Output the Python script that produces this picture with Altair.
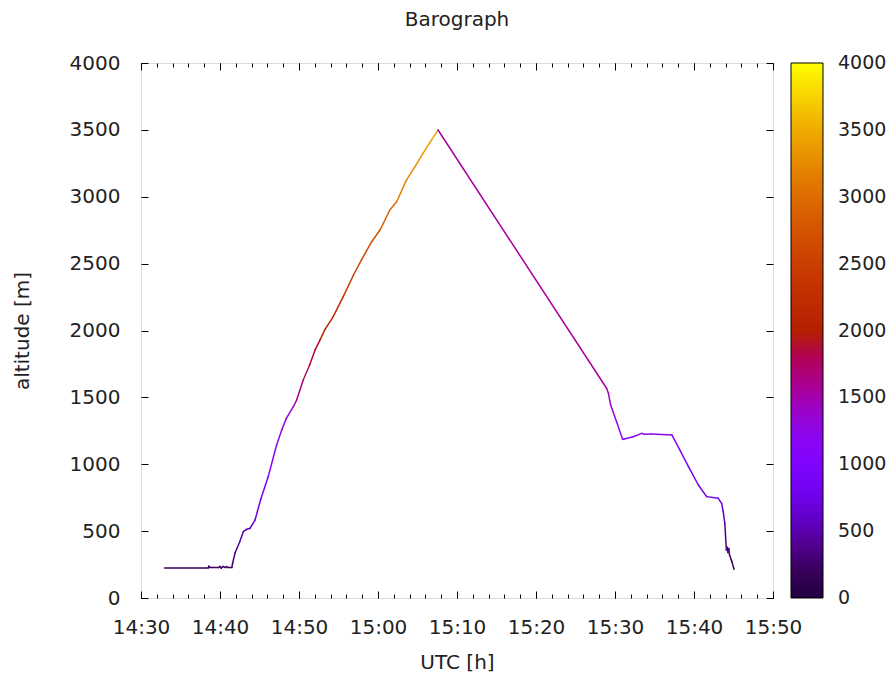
import math
import altair as alt
import pandas as pd

# ---- data (UTC clock time, altitude in m) ----
times = [
    "14:33:00", "14:38:30", "14:38:35", "14:38:45", "14:39:50", "14:40:00",
    "14:40:10", "14:40:20", "14:40:40", "14:40:50", "14:41:00", "14:41:30",
    "14:41:36", "14:41:54", "14:42:30", "14:42:57", "14:43:20", "14:43:48",
    "14:44:26", "14:45:10", "14:46:06", "14:47:10", "14:47:50", "14:48:24",
    "14:49:17", "14:49:42", "14:50:32", "14:51:20", "14:52:02", "14:52:40",
    "14:53:18", "14:54:20", "14:55:36", "14:56:54", "14:57:54", "14:59:12",
    "15:00:15", "15:01:30", "15:02:22", "15:03:36", "15:04:41", "15:05:42",
    "15:06:40", "15:07:36",
    "15:28:56", "15:29:10", "15:29:27", "15:30:12", "15:30:58", "15:31:10",
    "15:32:18", "15:33:24", "15:33:40", "15:34:36", "15:37:12", "15:38:12",
    "15:39:18", "15:40:33", "15:41:36", "15:43:04", "15:43:30", "15:43:42",
    "15:43:54", "15:44:06", "15:44:12", "15:44:18", "15:44:24", "15:44:30",
    "15:44:48", "15:45:04",
]
altitudes = [
    225, 225, 238, 228, 228, 236,
    222, 236, 228, 235, 228, 228,
    260, 336, 420, 496, 512, 521,
    583, 740, 907, 1144, 1260, 1343,
    1430, 1480, 1630, 1740, 1854, 1930,
    2009, 2104, 2253, 2415, 2527, 2664,
    2751, 2901, 2963, 3125, 3225, 3325,
    3415, 3499,
    1568, 1530, 1443, 1318, 1186, 1189,
    1206, 1231, 1225, 1226, 1219, 1107,
    982, 845, 758, 745, 708, 646,
    558, 359, 380, 340, 370, 321,
    272, 215,
]

x_ticks_major = [870, 880, 890, 900, 910, 920, 930, 940, 950]  # 14:30 .. 15:50
x_ticks_minor = list(range(870, 951, 2))
y_ticks = [0, 500, 1000, 1500, 2000, 2500, 3000, 3500, 4000]
cb_ticks = [0, 500, 1000, 1500, 2000, 2500, 3000, 3500, 4000]


def to_min(s):
    h, m, sec = (int(v) for v in s.split(":"))
    return h * 60 + m + sec / 60.0


mins = [to_min(t) for t in times]
seg = pd.DataFrame({
    "t0": mins[:-1], "t1": mins[1:],
    "a0": altitudes[:-1], "a1": altitudes[1:],
})

# gnuplot default palette (rgbformulae 7,5,15)
stops = [i / 16 for i in range(17)]
def pal(g):
    r = math.sqrt(g)
    gg = g ** 3
    b = max(0.0, math.sin(2 * math.pi * g))
    if g >= 1:
        b = 0.0
    return "#%02x%02x%02x" % (round(r * 255), round(gg * 255), round(b * 255))
pal_range = [pal(g) for g in stops]
pal_domain = [g * 4000 for g in stops]
# nudge the ends a hair outwards so the 0 / 4000 labels stay centred on their ticks
pal_domain[0] = -1
pal_domain[-1] = 4001

W, H = 632, 535
FONT = "DejaVu Sans"
TXT = "#222222"

xscale = alt.Scale(domain=[870, 950], nice=False, zero=False)
yscale = alt.Scale(domain=[0, 4000], nice=False)
cscale = alt.Scale(domain=pal_domain, range=pal_range)

label_expr = ("floor(datum.value/60) + ':' + (datum.value % 60 < 10 ? '0' : '') + (datum.value % 60)")

base = alt.Chart(seg)

main = base.mark_rule(strokeWidth=1.5, strokeCap="round").encode(
    x=alt.X("t0:Q", scale=xscale, axis=alt.Axis(
        orient="bottom", values=x_ticks_major, labelExpr=label_expr,
        ticks=False, tickSize=0, domain=False, grid=False,
        labelFont=FONT, labelFontSize=20, labelColor=TXT, labelPadding=29,
        labelBaseline="middle", labelFlush=False, labelOverlap=False,
        title="UTC [h]", titleFont=FONT, titleFontSize=20, titleFontWeight="normal",
        titleColor=TXT, titleX=W / 2, titleY=64, titleBaseline="middle",
        titleAnchor="middle")),
    x2="t1:Q",
    y=alt.Y("a0:Q", scale=yscale, axis=alt.Axis(
        orient="left", values=y_ticks, format="d",
        ticks=False, tickSize=0, domain=False, grid=False,
        labelFont=FONT, labelFontSize=20, labelColor=TXT, labelPadding=21,
        labelFlush=False, labelOverlap=False,
        title="altitude [m]", titleFont=FONT, titleFontSize=20,
        titleFontWeight="normal", titleColor=TXT, titleX=-119, titleY=H / 2,
        titleBaseline="middle", titleAngle=-90)),
    y2="a1:Q",
    color=alt.Color("a1:Q", scale=cscale, title="", legend=alt.Legend(
        type="gradient", orient="right", direction="vertical", offset=17, padding=0,
        gradientLength=H, gradientThickness=32, gradientStrokeColor="black",
        gradientStrokeWidth=1, values=cb_ticks, format="d",
        labelFont=FONT, labelFontSize=19, labelColor=TXT, labelOffset=15,
        labelOverlap=False, labelLimit=60, titlePadding=0)),
)


def tick_layer(vals, size, x_orient, y_orient):
    enc = {
        "x": alt.X("t0:Q", scale=xscale, axis=alt.Axis(
            orient=x_orient, offset=-H, values=vals, labels=False, tickSize=size,
            tickColor="black", tickWidth=1, domain=False, grid=False, title="")),
    }
    if y_orient:
        enc["y"] = alt.Y("a0:Q", scale=yscale, axis=alt.Axis(
            orient=y_orient, offset=-W, values=y_ticks, labels=False, tickSize=size,
            tickColor="black", tickWidth=1, domain=False, grid=False, title=""))
    else:
        enc["y"] = alt.Y("a0:Q", scale=yscale, axis=None)
    return base.mark_point(opacity=0).encode(**enc)


layers = [
    main,
    tick_layer(x_ticks_major, 7, "top", "right"),
    tick_layer(x_ticks_major, 7, "bottom", "left"),
    tick_layer(x_ticks_minor, 4, "top", None),
    tick_layer(x_ticks_minor, 4, "bottom", None),
]

chart = alt.layer(*layers).resolve_axis(x="independent", y="independent").properties(
    width=W, height=H,
    title=alt.TitleParams("Barograph", font=FONT, fontSize=20, fontWeight="normal",
                          color=TXT, anchor="middle", frame="group", offset=23),
    autosize=alt.AutoSizeParams(type="none"),
    padding={"left": 133, "top": 55, "right": 115, "bottom": 74},
).configure_view(stroke="black", strokeWidth=1).configure(background="white")

chart.save("out.html", embed_options={"renderer": "svg", "actions": False})
